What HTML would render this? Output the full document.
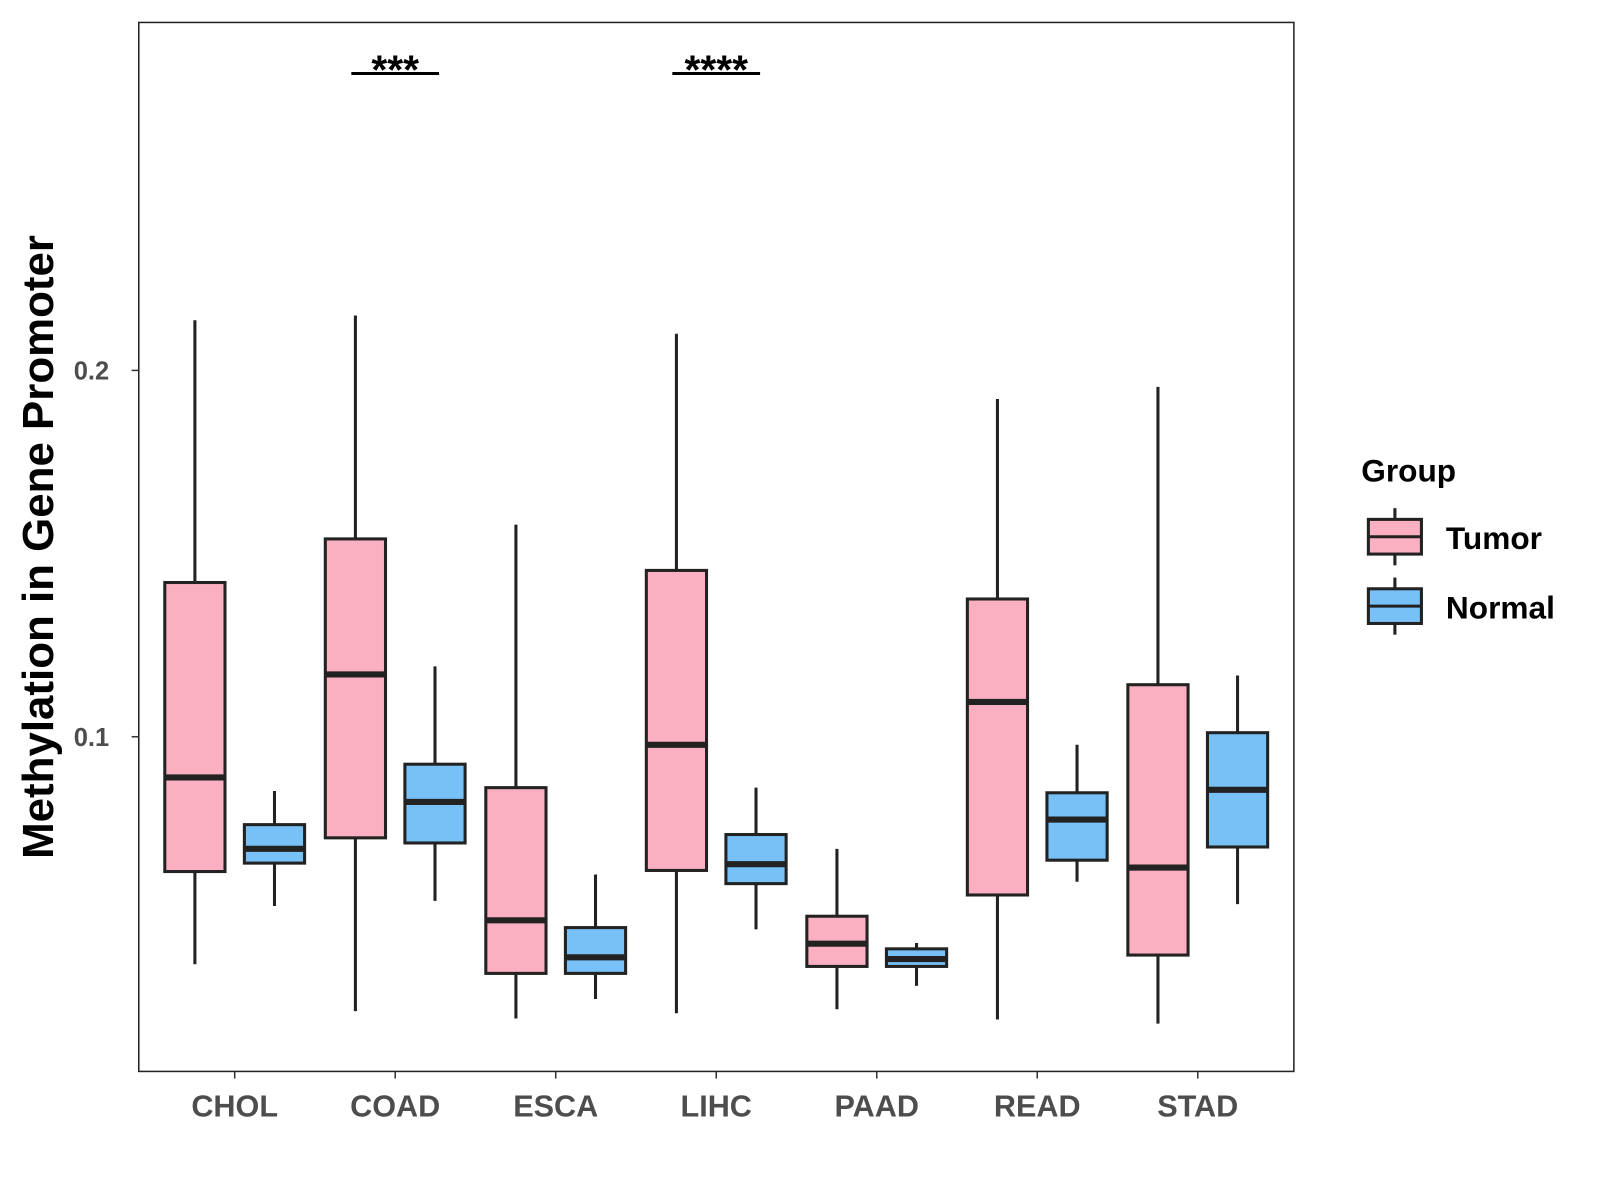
<!DOCTYPE html>
<html><head><meta charset="utf-8"><style>body{margin:0;background:#fff}svg{display:block;font-family:"Liberation Sans",sans-serif}</style></head>
<body>
<svg id="chart" width="1600" height="1200" viewBox="0 0 1568 1176" xmlns="http://www.w3.org/2000/svg">
<rect x="136" y="22" width="1132" height="1028" fill="none" stroke="#222" stroke-width="1.5"/>
<g id="marks"></g>
<text transform="translate(52,536) rotate(-90)" text-anchor="middle" font-size="43" font-weight="bold" fill="#000">Methylation in Gene Promoter</text>
<g>
<text x="1334" y="472" font-size="31" font-weight="bold">Group</text>
<g>
<line x1="1367" y1="498" x2="1367" y2="554" stroke="#222" stroke-width="3"/>
<rect x="1341" y="509" width="52" height="34" fill="#fbb0c2" stroke="#222" stroke-width="3"/>
<line x1="1341" y1="526" x2="1393" y2="526" stroke="#222" stroke-width="3"/>
<text x="1417" y="538" font-size="31" font-weight="bold">Tumor</text></g>
<g>
<line x1="1367" y1="566" x2="1367" y2="622" stroke="#222" stroke-width="3"/>
<rect x="1341" y="577" width="52" height="34" fill="#77c1f6" stroke="#222" stroke-width="3"/>
<line x1="1341" y1="594" x2="1393" y2="594" stroke="#222" stroke-width="3"/>
<text x="1417" y="606" font-size="31" font-weight="bold">Normal</text></g>
</g>
</svg>
<script>
const categories=["CHOL","COAD","ESCA","LIHC","PAAD","READ","STAD"];
// [whiskerHigh, q3, median, q1, whiskerLow]
const tumorStats=[[0.2137,0.1421,0.0889,0.0632,0.0379],[0.2150,0.1540,0.1170,0.0724,0.0251],[0.1579,0.0861,0.0499,0.0354,0.0231],[0.2100,0.1454,0.0978,0.0635,0.0245],[0.0694,0.0510,0.0435,0.0373,0.0256],[0.1922,0.1376,0.1095,0.0568,0.0228],[0.1955,0.1142,0.0643,0.0404,0.0217]];
const normalStats=[[0.0852,0.0760,0.0694,0.0655,0.0538],[0.1192,0.0925,0.0822,0.0710,0.0552],[0.0624,0.0479,0.0398,0.0354,0.0284],[0.0861,0.0733,0.0652,0.0599,0.0474],[0.0437,0.0421,0.0393,0.0373,0.0320],[0.0978,0.0847,0.0774,0.0663,0.0604],[0.1167,0.1011,0.0855,0.0699,0.0543]];
const yTicks=[0.1,0.2];
const yTickLabels=["0.1","0.2"];
const sigCategories=["COAD","LIHC"];
const sigLabels=["***","****"];
const NS="http://www.w3.org/2000/svg";
const g=document.getElementById('marks');
const y=v=>722-(v-0.1)*3590;
const x=i=>230+i*157.3;
function mk(tag,a,parent){const e=document.createElementNS(NS,tag);for(const k in a)e.setAttribute(k,a[k]);(parent||g).appendChild(e);return e;}
yTicks.forEach((t,i)=>{
 const tk=mk('line',{x1:129,x2:136,y1:y(t),y2:y(t),stroke:'#333','stroke-width':1.5});
 
 
 const tl=mk('text',{x:107,y:y(t)+9,'text-anchor':'end','font-size':25,'font-weight':'bold',fill:'#4d4d4d'});
 tl.textContent=yTickLabels[i];
 
 
});
categories.forEach((c,i)=>{
 const tk=mk('line',{x1:x(i),x2:x(i),y1:1050,y2:1057,stroke:'#333','stroke-width':1.5});
 
 
 const tl=mk('text',{x:x(i),y:1094,'text-anchor':'middle','font-size':30,'font-weight':'bold',fill:'#4d4d4d'});
 tl.textContent=c;
 
 
});
function box(cx,s,fill,name){
 const grp=mk('g',{});
 
 
 mk('line',{x1:cx,x2:cx,y1:y(s[0]),y2:y(s[4]),stroke:'#222','stroke-width':3},grp);
 mk('rect',{x:cx-29.5,y:y(s[1]),width:59,height:y(s[3])-y(s[1]),fill:fill,stroke:'#222','stroke-width':3},grp);
 mk('line',{x1:cx-29.5,x2:cx+29.5,y1:y(s[2]),y2:y(s[2]),stroke:'#222','stroke-width':6},grp);
}
categories.forEach((c,i)=>{
 box(x(i)-39,tumorStats[i],'#fbb0c2','box-tumor-'+c.toLowerCase());
 box(x(i)+39,normalStats[i],'#77c1f6','box-normal-'+c.toLowerCase());
});
sigCategories.forEach((c,j)=>{
 const i=categories.indexOf(c);
 const l=mk('line',{x1:x(i)-43,x2:x(i)+43,y1:72,y2:72,stroke:'#000','stroke-width':3});
 
 
 const t=mk('text',{x:x(i),y:82,'text-anchor':'middle','font-size':40,'font-weight':'bold'});
 t.textContent=sigLabels[j];
 
 
});
</script>
</body></html>
